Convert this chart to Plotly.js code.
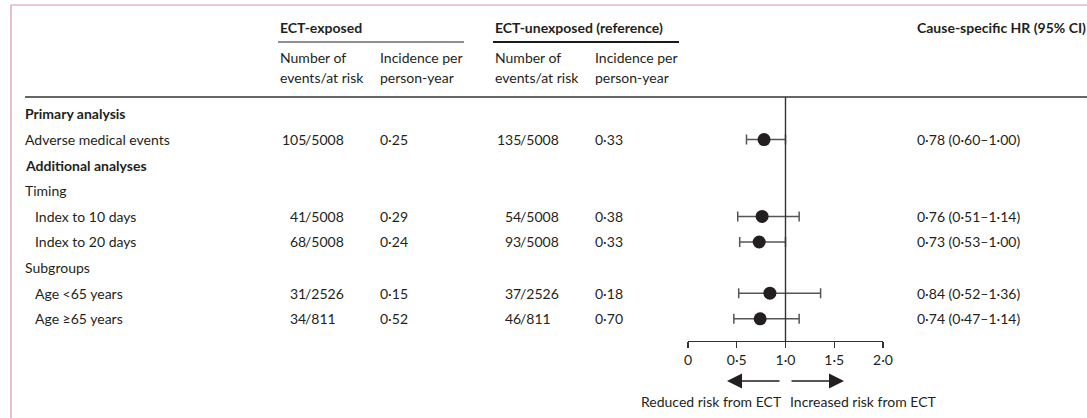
<!DOCTYPE html>
<html>
<head>
<meta charset="utf-8">
<script src="https://cdn.plot.ly/plotly-3.0.1.min.js"></script>
<style>
  html, body { margin: 0; padding: 0; background: #ffffff; }
  #chart { width: 1087px; height: 418px; }
</style>
</head>
<body>
<div id="chart"></div>
<script>
// Row labels of the table, top to bottom, and the kind of each row
const rowLabels = [
  "Primary analysis",
  "Adverse medical events",
  "Additional analyses",
  "Timing",
  "Index to 10 days",
  "Index to 20 days",
  "Subgroups",
  "Age <65 years",
  "Age ≥65 years"
];
const rowKinds = ["heading", "item", "heading", "group", "sub", "sub", "group", "sub", "sub"];

// Rows that carry results (index into rowLabels)
const resultRows = [1, 4, 5, 7, 8];

// ECT-exposed
const exposedEvents = [105, 41, 68, 31, 34];
const exposedAtRisk = [5008, 5008, 5008, 2526, 811];
const exposedIncidence = [0.25, 0.29, 0.24, 0.15, 0.52];

// ECT-unexposed (reference)
const unexposedEvents = [135, 54, 93, 37, 46];
const unexposedAtRisk = [5008, 5008, 5008, 2526, 811];
const unexposedIncidence = [0.33, 0.38, 0.33, 0.18, 0.70];

// Cause-specific hazard ratios with 95% CI
const hr = [0.78, 0.76, 0.73, 0.84, 0.74];
const ciLow = [0.60, 0.51, 0.53, 0.52, 0.47];
const ciHigh = [1.00, 1.14, 1.00, 1.36, 1.14];

// Axis ticks
const tickValues = [0, 0.5, 1.0, 1.5, 2.0];
const tickLabels = ["0", "0·5", "1·0", "1·5", "2·0"];

// ---------------------------------------------------------------
const W = 1087, H = 418;
const FONT = "Lato, 'Open Sans', sans-serif";
const FS = 14;
const INK = "#231f20";
const px = v => v / W;          // horizontal pixel -> paper
const py = v => 1 - v / H;      // vertical pixel -> paper

// decimal point drawn as a raised dot
const fmt = (v, d = 2) => v.toFixed(d).replace(".", "·");

const annotations = [];
function text(str, x, y, opts = {}) {
  annotations.push(Object.assign({
    text: str, x: x, y: y, xref: "paper", yref: "y",
    xanchor: "left", yanchor: "middle", showarrow: false, borderpad: 0,
    font: { family: FONT, size: FS, color: INK }
  }, opts));
}

// column headers
const hdr = (s, x, y, bold) => text(bold ? "<b>" + s + "</b>" : s, px(x), py(y), { yref: "paper" });
hdr("ECT-exposed", 279, 27, true);
hdr("ECT-unexposed (reference)", 494, 27, true);
hdr("Cause-specific HR (95% CI)", 916, 27, true);
hdr("Number of", 279, 58); hdr("events/at risk", 279, 77);
hdr("Incidence per", 379, 58); hdr("person-year", 379, 77);
hdr("Number of", 494, 58); hdr("events/at risk", 494, 77);
hdr("Incidence per", 594, 58); hdr("person-year", 594, 77);

// row labels
rowLabels.forEach((lab, i) => {
  const kind = rowKinds[i];
  const indent = kind === "sub" ? 34 : 24;
  text(kind === "heading" ? "<b>" + lab + "</b>" : lab, px(indent), i);
});

// numbers, aligned on the slash
const SLASH_EXP = 303.5, SLASH_UNEXP = 518.5, GAP_FIX = 3.5;
resultRows.forEach((r, k) => {
  text(String(exposedEvents[k]), px(SLASH_EXP + GAP_FIX), r, { xanchor: "right" });
  text("/" + exposedAtRisk[k], px(SLASH_EXP), r);
  text(fmt(exposedIncidence[k]), px(379), r);
  text(String(unexposedEvents[k]), px(SLASH_UNEXP + GAP_FIX), r, { xanchor: "right" });
  text("/" + unexposedAtRisk[k], px(SLASH_UNEXP), r);
  text(fmt(unexposedIncidence[k]), px(594), r);
  text(fmt(hr[k]) + " (" + fmt(ciLow[k]) + "–" + fmt(ciHigh[k]) + ")", px(916), r);
});

// direction arrows under the axis
const arrowY = py(381);
annotations.push({
  x: 0.4, y: arrowY, xref: "x", yref: "paper", ax: 54, ay: 0,
  showarrow: true, arrowhead: 2, arrowsize: 2, arrowwidth: 1.5, arrowcolor: INK, text: ""
});
annotations.push({
  x: 1.6, y: arrowY, xref: "x", yref: "paper", ax: -54, ay: 0,
  showarrow: true, arrowhead: 2, arrowsize: 2, arrowwidth: 1.5, arrowcolor: INK, text: ""
});
text("Reduced risk from ECT", 0.975, py(401), { xref: "x", yref: "paper", xanchor: "right" });
text("Increased risk from ECT", 1.035, py(401), { xref: "x", yref: "paper", xanchor: "left" });

const axisTop = 97, axisBottom = 341;

const shapes = [
  // frame
  { type: "line", xref: "paper", yref: "paper", x0: px(11), x1: px(11), y0: py(5), y1: 0,
    line: { color: "#d894a5", width: 1.2 } },
  { type: "line", xref: "paper", yref: "paper", x0: px(11), x1: 1, y0: py(5), y1: py(5),
    line: { color: "#d894a5", width: 1.2 } },
  // header rules
  { type: "line", xref: "paper", yref: "paper", x0: px(278), x1: px(464), y0: py(42), y1: py(42),
    line: { color: "#6b6b6b", width: 1.3 } },
  { type: "line", xref: "paper", yref: "paper", x0: px(493), x1: px(679), y0: py(42), y1: py(42),
    line: { color: "#1a1a1a", width: 2 } },
  { type: "line", xref: "paper", yref: "paper", x0: px(25), x1: 1, y0: py(97), y1: py(97),
    line: { color: "#666666", width: 2 } },
  // line of no effect
  { type: "line", xref: "x", yref: "paper", x0: 1, x1: 1, y0: py(axisBottom), y1: py(axisTop),
    line: { color: "#333333", width: 1.4 } }
];

const trace = {
  type: "scatter", mode: "markers",
  x: hr, y: resultRows,
  marker: { size: 13, color: INK },
  error_x: {
    type: "data", symmetric: false,
    array: hr.map((v, k) => ciHigh[k] - v),
    arrayminus: hr.map((v, k) => v - ciLow[k]),
    color: "#555555", thickness: 1.5, width: 5
  },
  hoverinfo: "skip", cliponaxis: false
};

// row spacing in pixels; first row centred at y=114
const rowStep = 25.6, firstRow = 114;
const yTop = (axisTop - firstRow) / rowStep;
const yBottom = (axisBottom - firstRow) / rowStep;

const layout = {
  width: W, height: H,
  margin: { l: 0, r: 0, t: 0, b: 0 },
  paper_bgcolor: "#ffffff", plot_bgcolor: "rgba(0,0,0,0)",
  showlegend: false,
  font: { family: FONT, size: FS, color: INK },
  xaxis: {
    domain: [px(688), px(883)], range: [0, 2], anchor: "y",
    showline: true, linecolor: "#333333", linewidth: 1.4,
    ticks: "outside", ticklen: 6, tickwidth: 1.4, tickcolor: "#333333",
    tickvals: tickValues, ticktext: tickLabels,
    tickfont: { family: FONT, size: FS, color: INK },
    showgrid: false, zeroline: false, fixedrange: true
  },
  yaxis: {
    domain: [py(axisBottom), py(axisTop)], range: [yBottom, yTop],
    visible: false, showgrid: false, zeroline: false, fixedrange: true
  },
  shapes: shapes,
  annotations: annotations
};

Plotly.newPlot("chart", [trace], layout, { displayModeBar: false, staticPlot: true });
</script>
</body>
</html>
